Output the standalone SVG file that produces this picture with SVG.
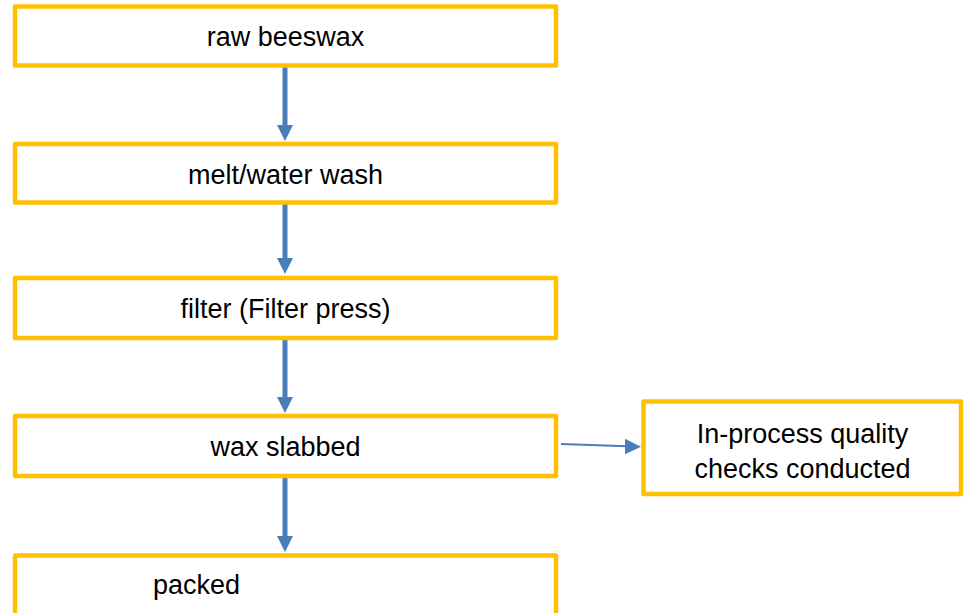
<svg xmlns="http://www.w3.org/2000/svg" width="968" height="613" viewBox="0 0 968 613">
<style>
.box{fill:#fff;stroke:#FFC000;stroke-width:4.5;stroke-linejoin:round}
.lbl{font-family:"Liberation Sans",Arial,sans-serif;font-size:27px;fill:#000;text-anchor:middle}
.conn{stroke:#4A7EBB;fill:none}
.head{fill:#4A7EBB}
</style>
<rect width="968" height="613" fill="#fff"/>
<g id="connectors">
<line class="conn" x1="285" y1="66" x2="285" y2="126" stroke-width="5"/>
<polygon class="head" points="277,125 293,125 285,141"/>
<line class="conn" x1="285" y1="202" x2="285" y2="259" stroke-width="5"/>
<polygon class="head" points="277,258 293,258 285,274"/>
<line class="conn" x1="285" y1="338" x2="285" y2="398" stroke-width="5"/>
<polygon class="head" points="277,397 293,397 285,413"/>
<line class="conn" x1="285" y1="476" x2="285" y2="537" stroke-width="5"/>
<polygon class="head" points="277,536 293,536 285,552"/>
<line class="conn" x1="561" y1="444" x2="627" y2="446.2" stroke-width="2"/>
<polygon class="head" points="625,438.7 641,446.7 625,454.2"/>
</g>
<g id="n1">
<rect class="box" x="15" y="6.5" width="541" height="59"/>
<text class="lbl" x="285.5" y="46">raw beeswax</text>
</g>
<g id="n2">
<rect class="box" x="15" y="144" width="541" height="58.5"/>
<text class="lbl" x="285.5" y="183.5">melt/water wash</text>
</g>
<g id="n3">
<rect class="box" x="15" y="278" width="541" height="60"/>
<text class="lbl" x="285.5" y="318">filter (Filter press)</text>
</g>
<g id="n4">
<rect class="box" x="15" y="416" width="541" height="60"/>
<text class="lbl" x="285.5" y="455.5">wax slabbed</text>
</g>
<g id="n5">
<rect class="box" x="15" y="555.5" width="541" height="80"/>
<text class="lbl" x="196.5" y="594">packed</text>
</g>
<g id="n6">
<rect class="box" x="643.5" y="401.5" width="317.5" height="92.5"/>
<text class="lbl" x="802.5" y="442.5">In-process quality</text>
<text class="lbl" x="802.5" y="477.5">checks conducted</text>
</g>
</svg>
